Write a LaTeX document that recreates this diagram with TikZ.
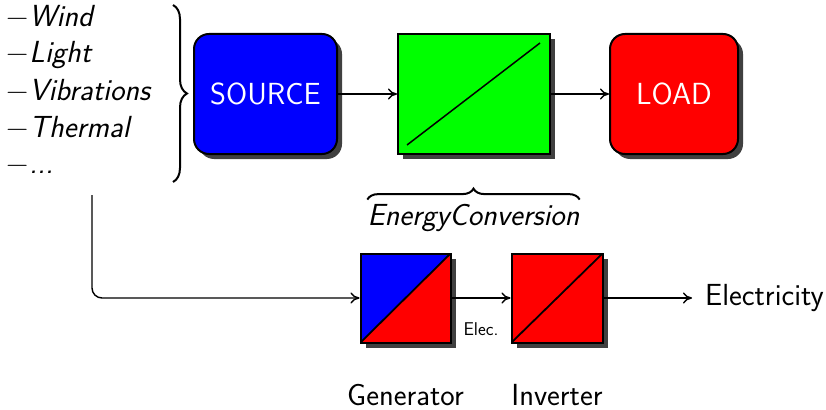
\documentclass[tikz,border=0pt]{standalone}
\usepackage{amsmath}
\usetikzlibrary{shadows,arrows.meta,decorations.pathreplacing}
\begin{document}
\begin{tikzpicture}[x=1pt,y=-1pt,
  base/.style={font=\fontsize{30.5}{36}\selectfont\sffamily},
  small/.style={font=\fontsize{18.5}{22}\selectfont\sffamily},
  blk/.style={draw=black, line width=2pt, inner sep=0pt,
    drop shadow={shadow xshift=5pt, shadow yshift=-5pt, fill=black!75, opacity=1}},
  conn/.style={line width=1.4pt, -{To[length=9pt,width=11pt]}},
  bracestyle/.style={line width=2pt, decorate},
  item/.style={base, anchor=base west, inner sep=0pt}]
\useasboundingbox (0,0) rectangle (826,409);

% list
\node[item] (l1) at (6,27) {−\kern1pt\textit{Wind}};
\node[item] (l2) at (6,63) {−\kern1pt\textit{Light}};
\node[item] (l3) at (6,100) {−\kern1pt\textit{Vibrations}};
\node[item] (l4) at (6,137) {−\kern1pt\textit{Thermal}};
\node[item] (l5) at (6,173) {−\kern1pt\textit{...}};

% brace
\coordinate (bt) at (173,5);
\coordinate (bb) at (173,182);
\draw[bracestyle, decoration={brace, amplitude=14pt}] (bt) -- (bb);

% top row
\node[blk, fill=blue, rounded corners=15pt, minimum width=143pt, minimum height=120pt,
  text=white, base] (src) at (265.5,94) {SOURCE};
\node[blk, fill=green, minimum width=152pt, minimum height=120pt] (conv) at (474,94) {};
\node[blk, fill=red, rounded corners=15pt, minimum width=128pt, minimum height=120pt,
  text=white, base] (load) at (674,94) {LOAD};
\draw[line width=1.5pt] ([shift={(10pt,10pt)}]conv.south west) -- ([shift={(-11pt,-10pt)}]conv.north east);

\draw[conn] (src.east) -- (conv.west);
\draw[conn] (conv.east) -- (load.west);

% overbrace
\node[base, anchor=base, inner sep=0pt] (ec) at (473.5,225) {\itshape EnergyConversion};
\draw[bracestyle, decoration={brace, amplitude=11pt}]
  ([shift={(0pt,4pt)}]ec.north west) -- ([shift={(0pt,4pt)}]ec.north east);

% bottom row
\node[blk, fill=blue, minimum width=90pt, minimum height=89pt,
  path picture={
    \fill[red] (path picture bounding box.south west) -- (path picture bounding box.south east)
      -- (path picture bounding box.north east) -- cycle;
    \draw[line width=1.8pt] (path picture bounding box.south west) -- (path picture bounding box.north east);
  }] (gen) at (405.5,298) {};
\node[blk, fill=red, minimum width=91pt, minimum height=89pt,
  path picture={
    \draw[line width=1.8pt] (path picture bounding box.south west) -- (path picture bounding box.north east);
  }] (inv) at (557,298) {};

\coordinate (tap) at (92,195);
\draw[conn, rounded corners=10pt] (tap) |- (gen.west);
\draw[conn] (gen.east) -- (inv.west);

\node[base, anchor=west, inner xsep=0pt] (elec) at (705,298) {Electricity};
\draw[conn] (inv.east) -- ([xshift=-13pt]elec.west);

\node[small] (eleclbl) at (481,329) {Elec.};
\node[base, anchor=base, inner sep=0pt] (genlbl) at (405.5,405) {Generator};
\node[base, anchor=base, inner sep=0pt] (invlbl) at (557,405) {Inverter};
\end{tikzpicture}
\end{document}
